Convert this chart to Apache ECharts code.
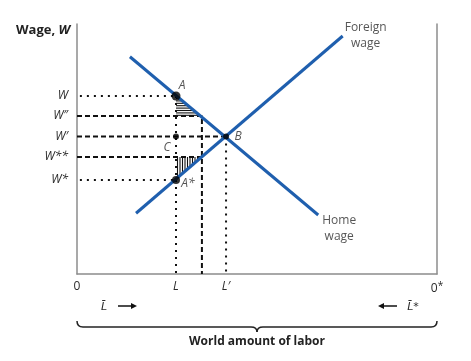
<!DOCTYPE html>
<html>
<head>
<meta charset="utf-8">
<script src="https://cdn.jsdelivr.net/npm/echarts@6/dist/echarts.min.js"></script>
<style>html,body{margin:0;padding:0;background:#fff}#c{width:471px;height:361px}</style>
</head>
<body>
<div id="c"></div>
<script>
// ---- data (abstract units, 0..100 on both axes) ----
var homeWage = [[14.7, 86.9], [67.0, 23.6]];
var foreignWage = [[16.4, 24.3], [73.8, 95.2]];
var wageNames = ['W', 'W\u2033', 'W\u2032', 'W**', 'W*'];
var wageValues = [71.2, 63.2, 55.0, 46.8, 37.6];
var laborNames = ['0', 'L', 'L\u2032', '0*'];
var laborValues = [0, 27.5, 41.4, 100];
var pointNames = ['A', 'B', 'C', 'A*'];
var pointValues = [[27.5, 71.2], [41.4, 55.0], [27.5, 55.0], [27.5, 37.6]];
var midLabor = 34.7;
var hatchUpper = [[27.5, 71.2], [27.5, 63.2], [34.4, 63.2]];
var hatchLower = [[27.5, 46.8], [34.7, 46.8], [27.5, 37.6]];

var W = {}; wageNames.forEach(function (n, i) { W[n] = wageValues[i]; });
var Lx = {}; laborNames.forEach(function (n, i) { Lx[n] = laborValues[i]; });
var P = {}; pointNames.forEach(function (n, i) { P[n] = pointValues[i]; });

var blue = '#1f5fae';
var axisGray = '#8c8c8c';
var txt = '#2a2a2a';
var FONT = '"Open Sans", "Noto Sans", sans-serif';

function lineSeries(data, width, dash) {
  return {
    type: 'line', data: data, symbol: 'none', silent: true, animation: false,
    lineStyle: { color: '#111', width: width, type: dash }, z: 3
  };
}

var chart = echarts.init(document.getElementById('c'));
var option = {
  animation: false,
  grid: { left: 77, right: 34, top: 24, bottom: 87 },
  xAxis: {
    type: 'value', min: 0, max: 100,
    splitLine: { show: false },
    axisLine: { show: true, lineStyle: { color: axisGray, width: 1.5 } },
    axisTick: { show: false },
    axisLabel: {
      customValues: laborValues, margin: 7,
      fontFamily: FONT, fontSize: 12, color: txt,
      formatter: function (v) {
        var i = laborValues.indexOf(v);
        var n = laborNames[i];
        if (n === '0') return '0';
        if (n === '0*') return '0{s|*}';
        return '{i|' + n + '}';
      },
      rich: {
        i: { fontStyle: 'italic', fontFamily: FONT, fontSize: 12, color: txt },
        s: { fontFamily: FONT, fontSize: 10, color: txt, verticalAlign: 'top', padding: [0, 0, 6, 0] }
      }
    }
  },
  yAxis: [{
    type: 'value', min: 0, max: 100,
    splitLine: { show: false },
    axisLine: { show: true, lineStyle: { color: axisGray, width: 1.5 } },
    axisTick: { show: false },
    axisLabel: {
      customValues: wageValues, margin: 9,
      fontFamily: FONT, fontSize: 12, fontStyle: 'italic', color: txt,
      formatter: function (v) { return wageNames[wageValues.indexOf(v)]; }
    }
  }, {
    type: 'value', min: 0, max: 100, position: 'right',
    splitLine: { show: false },
    axisLine: { show: true, onZero: false, lineStyle: { color: axisGray, width: 1.5 } },
    axisTick: { show: false }, axisLabel: { show: false }
  }],
  series: [
    // dotted guides
    lineSeries([[0.8, W['W']], P['A']], 2, [2, 5]),
    lineSeries([[0.8, W['W*']], P['A*']], 2, [2, 5]),
    lineSeries([P['A'], [Lx['L'], 0]], 2, [2, 5]),
    lineSeries([P['B'], [Lx['L\u2032'], 0]], 2, [2, 5]),
    // dashed guides
    lineSeries([[0, W['W\u2033']], [midLabor, W['W\u2033']], [midLabor, 0]], 2, [5, 3]),
    lineSeries([[0, W['W**']], [midLabor, W['W**']]], 2, [5, 3]),
    lineSeries([[0, W['W\u2032']], P['B']], 2, [5, 3]),
    // hatched triangles
    {
      type: 'custom', coordinateSystem: 'cartesian2d', data: [[0, 0]], silent: true, z: 2,
      renderItem: function (params, api) {
        var ch = [];
        var a = api.coord(hatchUpper[0]), b = api.coord(hatchUpper[1]), c = api.coord(hatchUpper[2]);
        for (var y = a[1] + 2.5; y <= b[1] + 0.1; y += 2.4) {
          var t = (y - a[1]) / (b[1] - a[1]);
          var xr = a[0] + t * (c[0] - a[0]);
          ch.push({ type: 'line', shape: { x1: a[0], y1: y, x2: xr, y2: y }, style: { stroke: '#111', lineWidth: 1.1 } });
        }
        var p = api.coord(hatchLower[0]), q = api.coord(hatchLower[1]), r = api.coord(hatchLower[2]);
        for (var x = p[0] + 1.5; x <= q[0] - 1; x += 2.5) {
          var s = (x - p[0]) / (q[0] - p[0]);
          var yb = r[1] + s * (q[1] - r[1]);
          ch.push({ type: 'line', shape: { x1: x, y1: p[1], x2: x, y2: yb }, style: { stroke: '#111', lineWidth: 1.1 } });
        }
        return { type: 'group', children: ch };
      }
    },
    // wage curves
    {
      type: 'line', data: homeWage, symbol: 'none', silent: true, z: 4,
      lineStyle: { color: blue, width: 3 }
    },
    {
      type: 'line', data: foreignWage, symbol: 'none', silent: true, z: 4,
      lineStyle: { color: blue, width: 3 }
    },
    // curve labels
    {
      type: 'scatter', symbolSize: 0, silent: true, z: 5,
      data: [
        { value: foreignWage[1], label: { show: true, formatter: 'Foreign\nwage', offset: [23, 0] } },
        { value: homeWage[1], label: { show: true, formatter: 'Home\nwage', offset: [21, 14] } }
      ],
      label: { position: 'inside', align: 'center', verticalAlign: 'middle', fontFamily: FONT, fontSize: 12, lineHeight: 16, color: txt }
    },
    // points
    {
      type: 'scatter', silent: true, z: 6,
      itemStyle: { color: '#000' },
      data: [
        { value: P['A'], symbolSize: 9, label: { show: true, formatter: 'A', offset: [6, -10] } },
        { value: P['B'], symbolSize: 6, label: { show: true, formatter: 'B', offset: [12, 0] } },
        { value: P['C'], symbolSize: 6, label: { show: true, formatter: 'C', offset: [-9, 11] } },
        { value: P['A*'], symbolSize: 8, label: { show: true, formatter: 'A*', offset: [12, 4] } }
      ],
      label: { position: 'inside', align: 'center', verticalAlign: 'middle', fontFamily: FONT, fontSize: 12, fontStyle: 'italic', color: txt }
    }
  ],
  graphic: [
    {
      type: 'text', left: 16, top: 24,
      style: {
        text: 'Wage, {i|W}', fontFamily: FONT, fontSize: 13, fontWeight: 'bold', fill: '#222',
        rich: { i: { fontFamily: FONT, fontSize: 13, fontWeight: 'bold', fontStyle: 'italic', fill: '#222' } }
      }
    },
    {
      type: 'text', x: 104, y: 307,
      style: { text: 'L\u0304', fontFamily: '"DejaVu Sans", sans-serif', fontSize: 11, fontStyle: 'italic', fill: txt, align: 'center', verticalAlign: 'middle' }
    },
    {
      type: 'text', x: 413, y: 307,
      style: { text: 'L\u0304*', fontFamily: '"DejaVu Sans", sans-serif', fontSize: 11, fontStyle: 'italic', fill: txt, align: 'center', verticalAlign: 'middle' }
    },
    { type: 'line', shape: { x1: 118, y1: 306, x2: 133, y2: 306 }, style: { stroke: '#111', lineWidth: 1.5 } },
    { type: 'polygon', shape: { points: [[137, 306], [131, 303], [131, 309]] }, style: { fill: '#111' } },
    { type: 'line', shape: { x1: 382, y1: 306, x2: 397, y2: 306 }, style: { stroke: '#111', lineWidth: 1.5 } },
    { type: 'polygon', shape: { points: [[378, 306], [384, 303], [384, 309]] }, style: { fill: '#111' } },
    { type: 'bezierCurve', shape: { x1: 77, y1: 321, cpx1: 77, cpy1: 327, x2: 83, y2: 327 }, style: { stroke: '#222', lineWidth: 1.5, fill: null } },
    { type: 'line', shape: { x1: 83, y1: 327, x2: 251, y2: 327 }, style: { stroke: '#222', lineWidth: 1.5 } },
    { type: 'bezierCurve', shape: { x1: 251, y1: 327, cpx1: 257, cpy1: 327, x2: 257, y2: 332 }, style: { stroke: '#222', lineWidth: 1.5, fill: null } },
    { type: 'bezierCurve', shape: { x1: 263, y1: 327, cpx1: 257, cpy1: 327, x2: 257, y2: 332 }, style: { stroke: '#222', lineWidth: 1.5, fill: null } },
    { type: 'line', shape: { x1: 263, y1: 327, x2: 431, y2: 327 }, style: { stroke: '#222', lineWidth: 1.5 } },
    { type: 'bezierCurve', shape: { x1: 437, y1: 321, cpx1: 437, cpy1: 327, x2: 431, y2: 327 }, style: { stroke: '#222', lineWidth: 1.5, fill: null } },
    {
      type: 'text', x: 257, y: 342,
      style: { text: 'World amount of labor', fontFamily: FONT, fontSize: 12, fontWeight: 'bold', fill: '#222', align: 'center', verticalAlign: 'middle' }
    }
  ]
};
chart.setOption(option);
</script>
</body>
</html>
